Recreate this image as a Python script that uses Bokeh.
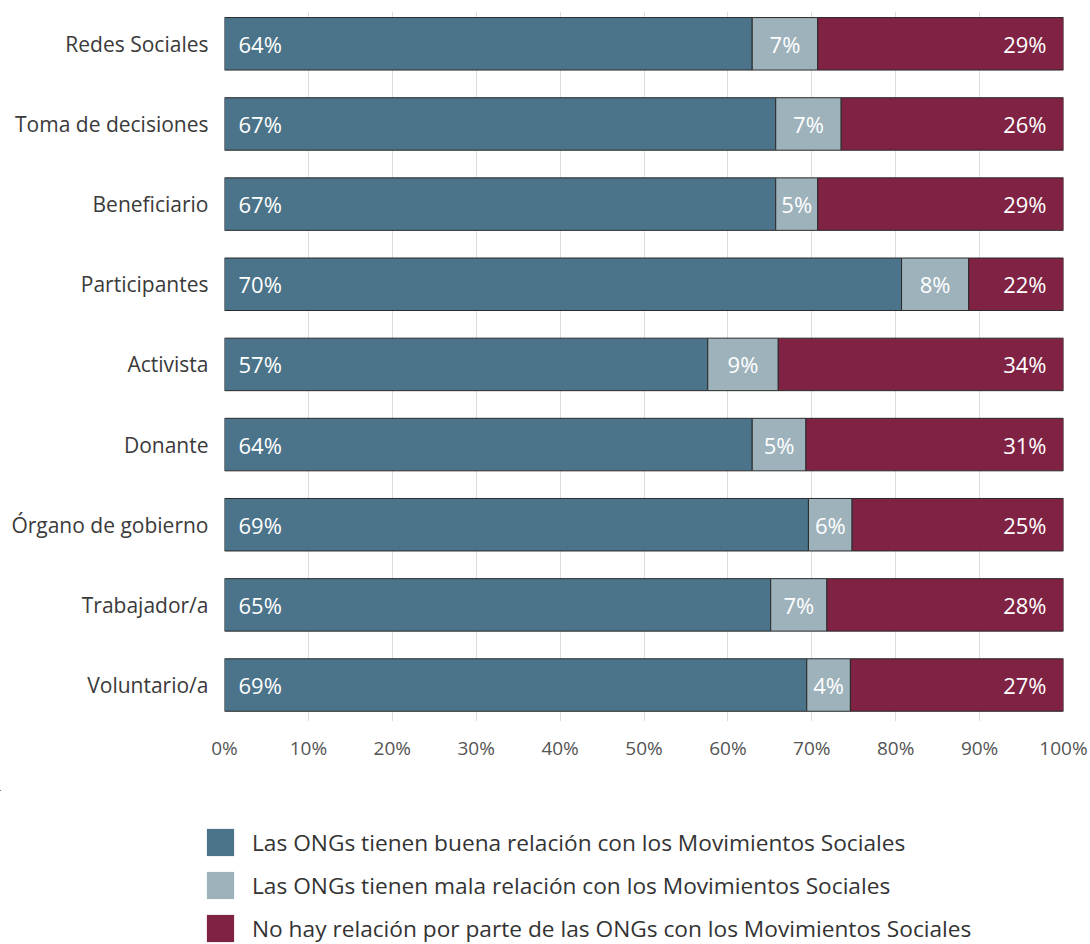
from bokeh.plotting import figure
from bokeh.layouts import column
from bokeh.models import (ColumnDataSource, Range1d, FixedTicker, PrintfTickFormatter,
                          Legend, LegendItem)
from bokeh.embed import file_html
from bokeh.resources import INLINE
from bokeh.core.properties import value

# ---------------- data ----------------
categories = ["Redes Sociales", "Toma de decisiones", "Beneficiario", "Participantes",
              "Activista", "Donante", "Órgano de gobierno", "Trabajador/a", "Voluntario/a"]
# bar widths as drawn (percent of total)
buena = [62.9, 65.7, 65.7, 80.7, 57.6, 62.9, 69.6, 65.1, 69.4]
mala = [7.8, 7.8, 5.0, 8.0, 8.4, 6.4, 5.2, 6.7, 5.2]
sin_relacion = [29.3, 26.5, 29.3, 11.3, 34.0, 30.7, 25.2, 28.2, 25.4]
# labels printed on the bars
buena_lbl = [64, 67, 67, 70, 57, 64, 69, 65, 69]
mala_lbl = [7, 7, 5, 8, 9, 5, 6, 7, 4]
sin_lbl = [29, 26, 29, 22, 34, 31, 25, 28, 27]
series_names = ["Las ONGs tienen buena relación con los Movimientos Sociales",
                "Las ONGs tienen mala relación con los Movimientos Sociales",
                "No hay relación por parte de las ONGs con los Movimientos Sociales"]
x_ticks = list(range(0, 101, 10))

colors = ["#4b7389", "#9db2bb", "#7f2244"]
FONT = "Open Sans"

n = len(categories)
ypos = [n - 1 - i for i in range(n)]
b_end = [b + m for b, m in zip(buena, mala)]
total = [b + m + s for b, m, s in zip(buena, mala, sin_relacion)]
mid = [b + m / 2 for b, m in zip(buena, mala)]

src = ColumnDataSource(dict(
    y=ypos, zero=[0] * n, buena=buena, b_end=b_end, total=total, mid=mid,
    lb=[f"{v}%" for v in buena_lbl],
    lm=[f"{v}%" for v in mala_lbl],
    ls=[f"{v}%" for v in sin_lbl],
))

p = figure(width=1090, height=790, output_backend="svg", toolbar_location=None,
           x_range=Range1d(0, 100), y_range=Range1d(-0.455, n - 1 + 0.403),
           min_border_left=224, min_border_right=27, min_border_top=11, min_border_bottom=69)
p.outline_line_color = None
p.background_fill_color = "white"

H = 0.655
LINE = "#2a2a2a"
seg = [("zero", "buena"), ("buena", "b_end"), ("b_end", "total")]
for (l, r), c in zip(seg, colors):
    p.hbar(y="y", left=l, right=r, height=H, source=src,
           fill_color=c, line_color=LINE, line_width=1)

common = dict(source=src, text_baseline="middle", text_color="white",
              text_font=value(FONT), text_font_size="22px", y_offset=0)
p.text(x="zero", y="y", text="lb", x_offset=14, text_align="left", **common)
p.text(x="mid", y="y", text="lm", text_align="center", **common)
p.text(x="total", y="y", text="ls", x_offset=-17, text_align="right", **common)

# axes
p.xaxis.ticker = FixedTicker(ticks=x_ticks)
p.xaxis.formatter = PrintfTickFormatter(format="%d%%")
p.xaxis.axis_line_color = None
p.xaxis.major_tick_line_color = None
p.xaxis.minor_tick_line_color = None
p.xaxis.major_label_standoff = 7
p.xaxis.major_label_text_font = FONT
p.xaxis.major_label_text_font_size = "19px"
p.xaxis.major_label_text_color = "#555555"

p.yaxis.ticker = FixedTicker(ticks=ypos)
p.yaxis.major_label_overrides = {y: c for y, c in zip(ypos, categories)}
p.yaxis.axis_line_color = None
p.yaxis.major_tick_line_color = None
p.yaxis.minor_tick_line_color = None
p.yaxis.major_label_standoff = 10
p.yaxis.major_label_text_font = FONT
p.yaxis.major_label_text_font_size = "21px"
p.yaxis.major_label_text_color = "#3a3a3a"

p.xgrid.ticker = FixedTicker(ticks=x_ticks)
p.xgrid.grid_line_color = "#dcdcdc"
p.xgrid.grid_line_width = 1
p.ygrid.grid_line_color = None

# ---------------- legend (separate strip below) ----------------
lg = figure(width=1090, height=154, output_backend="svg", toolbar_location=None,
            x_range=Range1d(200, 300), y_range=Range1d(-100, -99),
            x_axis_location=None, y_axis_location=None,
            min_border_left=0, min_border_right=0, min_border_top=0, min_border_bottom=0)
if "frame_align" in lg.properties():
    lg.frame_align = False
    p.frame_align = False
lg.outline_line_color = None
lg.grid.visible = False
items = []
for (l, r), name, c in zip(seg, series_names, colors):
    # same series, lying outside this strip's visible ranges: only their swatches show
    rr = lg.hbar(y="y", left=l, right=r, height=H, source=src,
                 fill_color=c, line_color=None)
    items.append(LegendItem(label=name, renderers=[rr]))
legend = Legend(items=items, location=(203, -1), orientation="vertical",
                glyph_width=34, glyph_height=34, label_standoff=15, spacing=9,
                padding=0, margin=0, border_line_color=None, background_fill_alpha=0,
                label_text_font=FONT, label_text_font_size="22.7px",
                label_text_color="#333333")
lg.add_layout(legend)

open("out.html", "w").write(file_html(column(p, lg), INLINE))
